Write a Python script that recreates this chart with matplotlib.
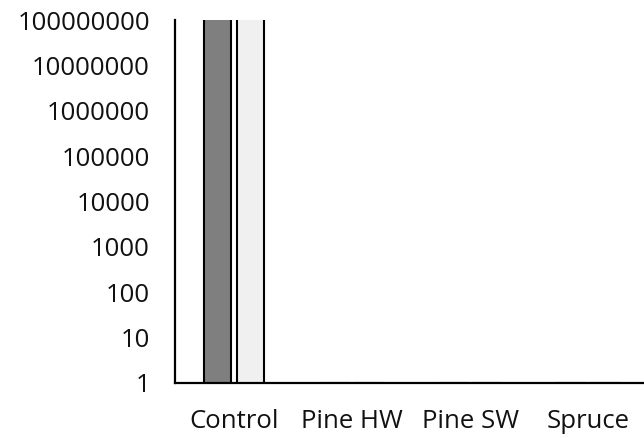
import matplotlib
matplotlib.use("Agg")
import matplotlib.pyplot as plt
import numpy as np

categories = ["Control", "Pine HW", "Pine SW", "Spruce"]
series_dark = [2e8, 1, 1, 1]
series_light = [2e8, 1, 1, 1]
ytick_values = [1, 10, 100, 1000, 10000, 100000, 1000000, 10000000, 100000000]
ytick_labels = ["1", "10", "100", "1000", "10000", "100000", "1000000", "10000000", "100000000"]

plt.rcParams['font.family'] = ['Open Sans', 'DejaVu Sans']

W, H = 644, 438
fig = plt.figure(figsize=(W / 100, H / 100), dpi=100)
left, right = 175, 647
bottom, top = 383, 20
ax = fig.add_axes([left / W, (H - bottom) / H, (right - left) / W, (bottom - top) / H])
ax.set_yscale("log")

x = np.arange(len(categories))
bw = 0.23
off = 0.143
ax.bar(x - off, series_dark, bw, color="#7f7f7f", edgecolor="black", linewidth=1.5, zorder=2)
ax.bar(x + off, series_light, bw, color="#f0f0f0", edgecolor="black", linewidth=1.5, zorder=2)

ax.set_ylim(1, 1e8)
ax.set_xlim(-0.5, len(categories) - 0.5)
ax.set_yticks(ytick_values)
ax.set_yticklabels(ytick_labels)
ax.minorticks_off()
ax.set_xticks(x)
ax.set_xticklabels(categories)
ax.tick_params(axis="y", length=0, pad=18, labelsize=18.5, colors="#111111")
ax.tick_params(axis="x", length=0, pad=19, labelsize=18.5, colors="#111111")

for s in ["top", "right"]:
    ax.spines[s].set_visible(False)
for s in ["left", "bottom"]:
    ax.spines[s].set_linewidth(1.6)
    ax.spines[s].set_color("black")
    ax.spines[s].set_zorder(3)

fig.savefig("out.png", dpi=100)
